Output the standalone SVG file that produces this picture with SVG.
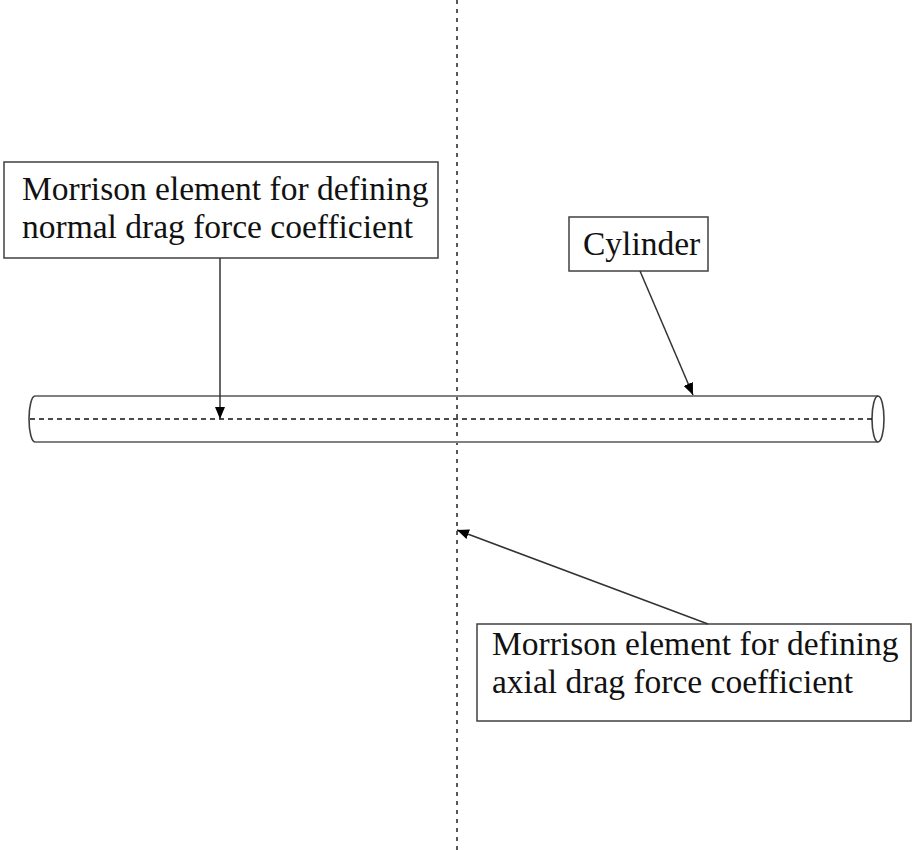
<svg xmlns="http://www.w3.org/2000/svg" width="912" height="850" viewBox="0 0 912 850">
<defs>
<style>
.box{fill:#fff;stroke:#404040;stroke-width:1.5}
.lbl{font-family:"Liberation Serif","Times New Roman",serif;font-size:33.5px;fill:#111}
.cyl{fill:none;stroke:#808080;stroke-width:1.8}
.cap{fill:none;stroke:#404040;stroke-width:1.6}
.conn{stroke:#333;stroke-width:1.5;fill:none;marker-end:url(#ah)}
.dash{stroke:#111;stroke-width:1.4;fill:none}
</style>
<marker id="ah" viewBox="0 0 12 10" refX="12" refY="5" markerWidth="12" markerHeight="10" markerUnits="userSpaceOnUse" orient="auto">
<path d="M0,0 L12,5 L0,10 z" fill="#000"/>
</marker>
</defs>
<rect width="912" height="850" fill="#fff"/>
<g id="axis">
<line class="dash" x1="457" y1="0" x2="457" y2="850" stroke-dasharray="4 5"/>
</g>
<g id="cylinder">
<line class="cyl" x1="35" y1="396" x2="878" y2="396"/>
<line class="cyl" x1="35" y1="442" x2="878" y2="442"/>
<path class="cap" d="M35,396 A6,23 0 0 0 35,442"/>
<ellipse class="cap" cx="878" cy="419" rx="6" ry="23"/>
<line class="dash" x1="30" y1="419" x2="872" y2="419" stroke-dasharray="5 4"/>
</g>
<g id="normal-label">
<rect class="box" x="4" y="162" width="434" height="96"/>
<text class="lbl" x="22" y="200">Morrison element for defining</text>
<text class="lbl" x="22" y="238">normal drag force coefficient</text>
</g>
<g id="cylinder-label">
<rect class="box" x="569" y="217" width="139" height="54"/>
<text class="lbl" x="583" y="255">Cylinder</text>
</g>
<g id="axial-label">
<rect class="box" x="477" y="624" width="434" height="97"/>
<text class="lbl" x="492" y="655">Morrison element for defining</text>
<text class="lbl" x="492" y="693">axial drag force coefficient</text>
</g>
<g id="connectors">
<line class="conn" x1="220" y1="258" x2="220" y2="419"/>
<line class="conn" x1="640" y1="271" x2="693" y2="395"/>
<line class="conn" x1="708" y1="624" x2="457" y2="530"/>
</g>
</svg>
